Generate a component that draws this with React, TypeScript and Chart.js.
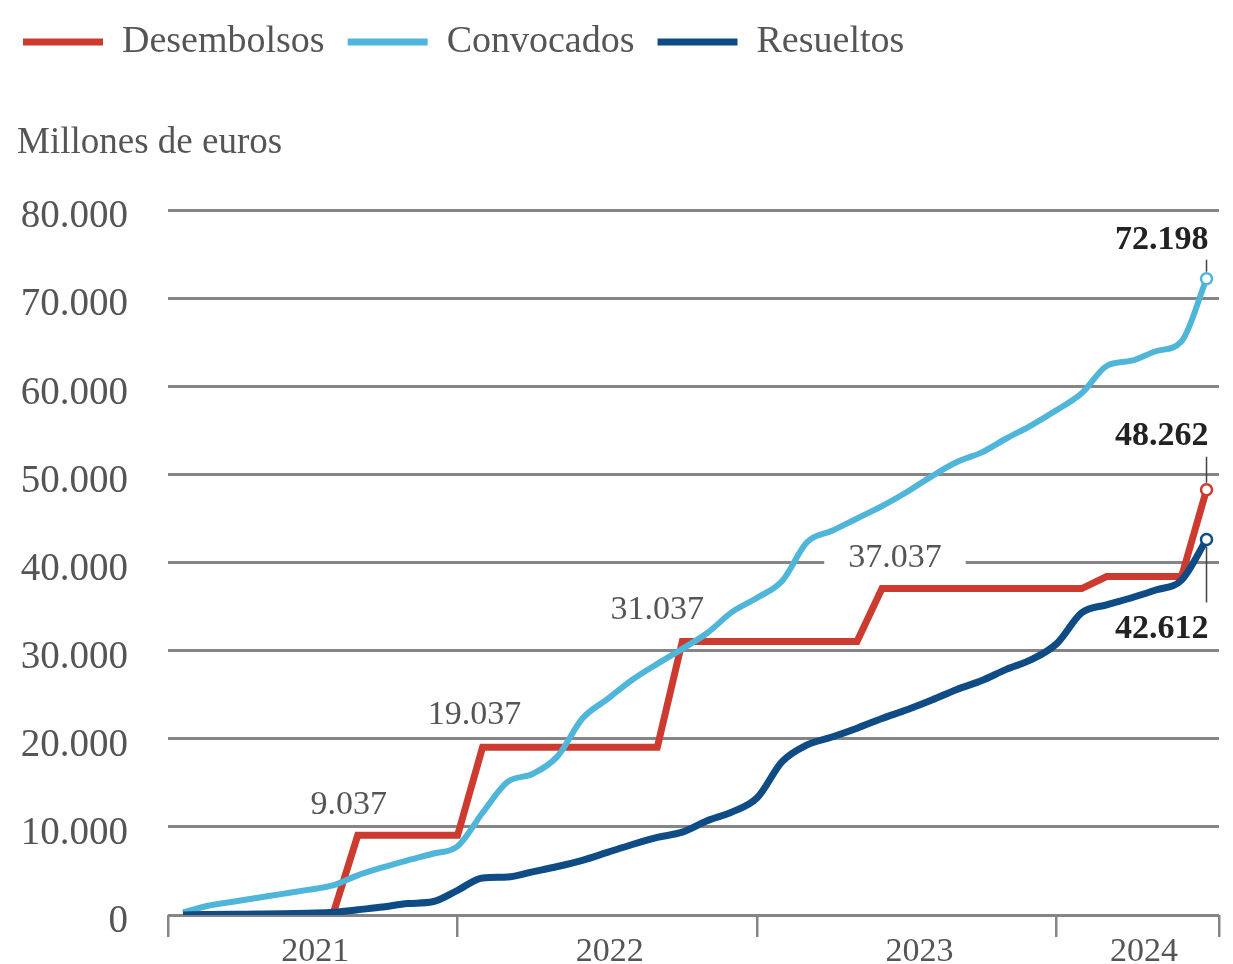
import React, { useEffect, useRef } from 'react';
import { Chart, registerables } from 'chart.js';

Chart.register(...registerables);
Chart.defaults.font.family = "'Liberation Serif', 'Times New Roman', serif";

// ---- Data (monthly points, month 1 = enero 2021) ----
const months = [
  1, 2, 3, 4, 5, 6, 7, 8, 9, 10, 11, 12,
  13, 14, 15, 16, 17, 18, 19, 20, 21, 22, 23, 24,
  25, 26, 27, 28, 29, 30, 31, 32, 33, 34, 35, 36,
  37, 38, 39, 40, 41, 42,
];

const desembolsos = [
  0, 0, 0, 0, 0, 0, 0, 9037, 9037, 9037, 9037, 9037,
  19037, 19037, 19037, 19037, 19037, 19037, 19037, 19037, 31037, 31037, 31037, 31037,
  31037, 31037, 31037, 31037, 37037, 37037, 37037, 37037, 37037, 37037, 37037, 37037,
  37037, 38400, 38400, 38400, 38400, 48262,
];

const convocados = [
  300, 1050, 1500, 1950, 2400, 2850, 3350, 4500, 5400, 6200, 6950, 7800,
  11600, 15100, 16000, 18000, 22300, 24500, 26700, 28500, 30200, 32000, 34400, 36000,
  37900, 42300, 43600, 45000, 46400, 48000, 49800, 51400, 52500, 54100, 55600, 57300,
  59200, 62300, 62900, 64000, 65100, 72198,
];

const resueltos = [
  0, 50, 80, 100, 130, 200, 300, 600, 900, 1300, 1500, 2800,
  4200, 4300, 4900, 5500, 6200, 7100, 8000, 8800, 9400, 10700, 11700, 13300,
  17400, 19300, 20200, 21200, 22300, 23300, 24400, 25600, 26600, 27900, 29000, 30800,
  34300, 35200, 36000, 36900, 38000, 42612,
];

const seriesNames = ['Desembolsos', 'Convocados', 'Resueltos'];
const yearBoundaries = [0.4, 12, 24, 36, 42.5];
const yearLabels = ['2021', '2022', '2023', '2024'];
const yearLabelPositions = [6.3, 18.1, 30.5, 39.5];
const stepLabelIndices = [7, 12, 20, 28];

// ---- Styles ----
const RED = '#cc3a30';
const LIGHT = '#50b6d9';
const DARK = '#0f4c86';
const GRID = '#858585';
const TEXT = '#555555';
const STRONG = '#222222';
const FONT = "'Liberation Serif', 'Times New Roman', serif";

const fmt = (v: number) =>
  Math.round(v).toString().replace(/\B(?=(\d{3})+(?!\d))/g, '.');

const stepLabelOffsets = [
  { dx: -9, dy: -30, knockout: false },
  { dx: -8, dy: -32, knockout: false },
  { dx: -25, dy: -31, knockout: false },
  { dx: 13, dy: -31, knockout: true },
];

const endLabelCfg = [
  { ds: 1, labelDy: -39, from: -7, to: -19 },
  { ds: 0, labelDy: -53, from: -7, to: -33 },
  { ds: 2, labelDy: 90, from: 7, to: 63 },
];

const toPoints = (vals: number[]) => months.map((m, i) => ({ x: m, y: vals[i] }));

const unitLabelShift = {
  id: 'unitLabelShift',
  afterLayout(chart: any) {
    if (chart.titleBlock) chart.titleBlock.left = 17;
  },
};

const annotations = {
  id: 'annotations',
  beforeDatasetsDraw(chart: any) {
    const ctx = chart.ctx;
    const meta = chart.getDatasetMeta(0);
    ctx.save();
    ctx.font = `34px ${FONT}`;
    stepLabelIndices.forEach((idx, k) => {
      const o = stepLabelOffsets[k];
      if (!o.knockout) return;
      const p = meta.data[idx];
      const text = fmt(desembolsos[idx]);
      const w = ctx.measureText(text).width;
      const cx = p.x + o.dx;
      const cy = p.y + o.dy;
      ctx.fillStyle = '#ffffff';
      ctx.fillRect(cx - w / 2 - 24, cy - 16, w + 48, 32);
    });
    ctx.restore();
  },
  afterDatasetsDraw(chart: any) {
    const ctx = chart.ctx;
    ctx.save();
    const meta = chart.getDatasetMeta(0);
    ctx.font = `34px ${FONT}`;
    ctx.fillStyle = TEXT;
    ctx.textAlign = 'center';
    ctx.textBaseline = 'middle';
    stepLabelIndices.forEach((idx, k) => {
      const o = stepLabelOffsets[k];
      const p = meta.data[idx];
      ctx.fillText(fmt(desembolsos[idx]), p.x + o.dx, p.y + o.dy);
    });
    const seriesVals = [desembolsos, convocados, resueltos];
    ctx.font = `bold 34px ${FONT}`;
    ctx.textAlign = 'right';
    endLabelCfg.forEach((c) => {
      const m = chart.getDatasetMeta(c.ds);
      const last = m.data.length - 1;
      const p = m.data[last];
      ctx.strokeStyle = '#444444';
      ctx.lineWidth = 1.5;
      ctx.beginPath();
      ctx.moveTo(p.x, p.y + c.from);
      ctx.lineTo(p.x, p.y + c.to);
      ctx.stroke();
      ctx.fillStyle = STRONG;
      ctx.fillText(fmt(seriesVals[c.ds][last]), p.x + 2, p.y + c.labelDy);
    });
    ctx.restore();
  },
};

export default function App() {
  const ref = useRef<HTMLCanvasElement>(null);

  useEffect(() => {
    const canvas = ref.current;
    if (!canvas) return;
    const last = months.length - 1;
    const radius = (c: any) => (c.dataIndex === last ? 5.5 : 0);
    const colors = [RED, LIGHT, DARK];
    const values = [desembolsos, convocados, resueltos];
    const widths = [7, 6, 7];
    const orders = [3, 2, 1];

    const chart = new Chart(canvas, {
      type: 'line',
      data: {
        datasets: seriesNames.map((name, i) => ({
          label: name,
          data: toPoints(values[i]),
          borderColor: colors[i],
          backgroundColor: colors[i],
          borderWidth: widths[i],
          fill: false,
          tension: 0,
          cubicInterpolationMode: i === 0 ? 'default' : 'monotone',
          pointRadius: radius,
          pointHoverRadius: radius,
          pointBorderWidth: 2.5,
          pointBackgroundColor: '#ffffff',
          pointBorderColor: colors[i],
          order: orders[i],
        })) as any,
      },
      options: {
        animation: false,
        responsive: true,
        maintainAspectRatio: false,
        events: [],
        layout: { padding: { left: 0, right: 14, top: 0, bottom: 0 } },
        plugins: {
          tooltip: { enabled: false },
          legend: {
            display: true,
            position: 'top',
            align: 'start',
            weight: 3000,
            labels: {
              boxWidth: 80,
              boxHeight: 7,
              padding: 23,
              color: TEXT,
              font: { size: 38, family: FONT },
              sort: (a: any, b: any) => a.datasetIndex - b.datasetIndex,
              generateLabels: (ch: any) =>
                (Chart.defaults.plugins.legend.labels as any)
                  .generateLabels(ch)
                  .map((l: any) => ({ ...l, lineWidth: 0, fillStyle: l.strokeStyle })),
            },
          } as any,
          title: {
            display: true,
            text: 'Millones de euros',
            align: 'start',
            position: 'top',
            color: TEXT,
            font: { size: 37, family: FONT, weight: 'normal' },
            padding: { top: 50, bottom: 44.6 },
          },
        },
        scales: {
          x: {
            type: 'linear',
            position: 'bottom',
            min: yearBoundaries[0],
            max: yearBoundaries[yearBoundaries.length - 1],
            weight: 0,
            afterBuildTicks: (s: any) => {
              s.ticks = yearBoundaries.map((v) => ({ value: v }));
            },
            afterFit: (s: any) => {
              s.height = 13;
            },
            ticks: { display: false },
            grid: {
              display: true,
              drawOnChartArea: false,
              drawTicks: true,
              tickLength: 22,
              color: GRID,
              lineWidth: 2.5,
            },
            border: { display: false },
          } as any,
          x2: {
            type: 'linear',
            position: 'bottom',
            min: yearBoundaries[0],
            max: yearBoundaries[yearBoundaries.length - 1],
            weight: 1,
            afterBuildTicks: (s: any) => {
              s.ticks = yearLabelPositions.map((v) => ({ value: v }));
            },
            afterFit: (s: any) => {
              s.height = 36;
            },
            ticks: {
              autoSkip: false,
              maxRotation: 0,
              padding: 4,
              color: TEXT,
              font: { size: 34, family: FONT },
              callback: (_v: any, i: number) => yearLabels[i],
            },
            grid: { display: false, drawTicks: false },
            border: { display: false },
          } as any,
          y: {
            type: 'linear',
            position: 'left',
            min: 0,
            max: 80000,
            afterFit: (s: any) => {
              s.width = 168;
            },
            ticks: {
              stepSize: 10000,
              padding: 0,
              labelOffset: 7,
              color: TEXT,
              font: { size: 39, family: FONT },
              callback: (v: any) => fmt(Number(v)),
            },
            grid: {
              color: GRID,
              lineWidth: 3,
              drawTicks: true,
              tickLength: 40,
              tickColor: 'rgba(0,0,0,0)',
            },
            border: { display: false },
          },
        },
      },
      plugins: [unitLabelShift, annotations],
    });

    return () => chart.destroy();
  }, []);

  return (
    <div
      style={{
        position: 'fixed',
        left: 0,
        top: 0,
        width: 1233,
        height: 964,
        background: '#ffffff',
      }}
    >
      <canvas ref={ref} />
    </div>
  );
}
